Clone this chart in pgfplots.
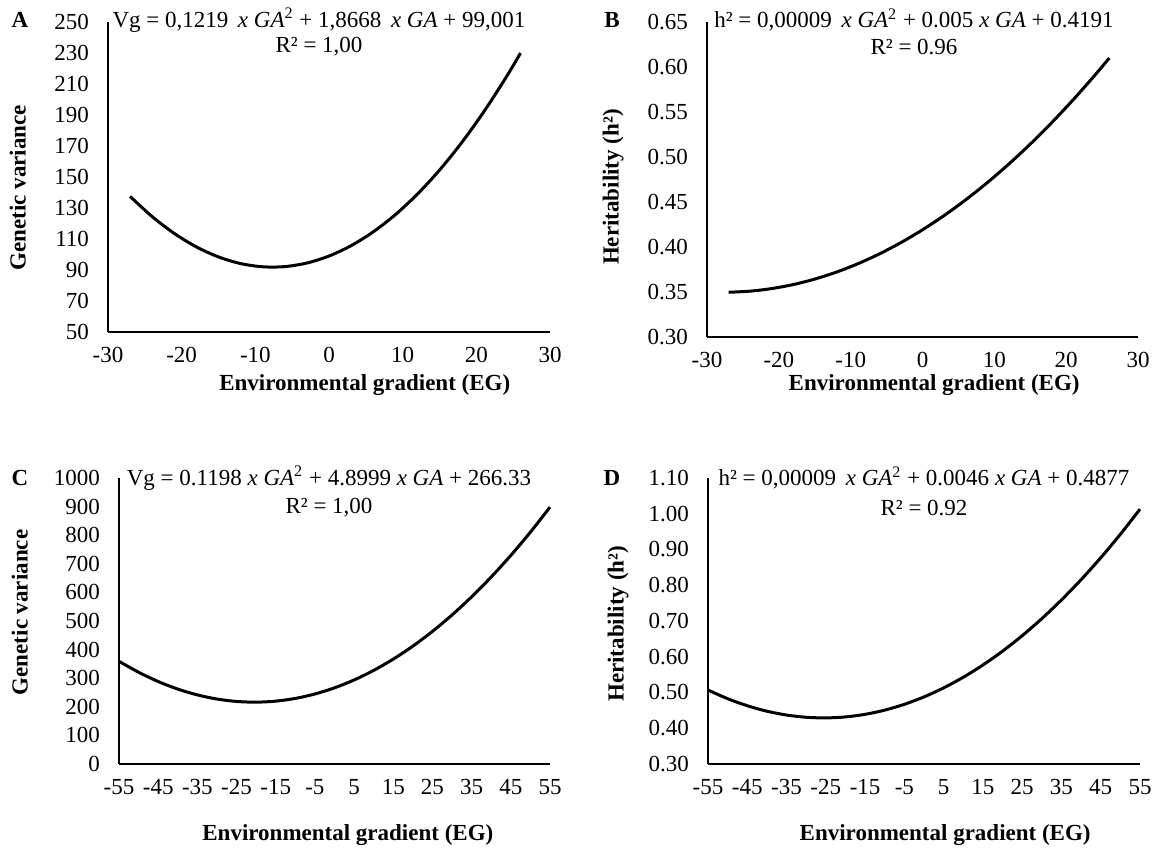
\documentclass[border=0pt]{standalone}
\usepackage{pgfplots}
\pgfplotsset{compat=1.18}
\usepackage{fontspec}
\setmainfont{Liberation Serif}

\pgfplotstableread{
x y
-27 137.47
-24 124.41
-21 113.56
-18 104.90
-15 98.43
-12 94.15
-9 92.07
-6 92.19
-3 94.50
0 99.00
3 105.70
6 114.59
9 125.67
12 138.95
15 154.43
18 172.10
21 191.96
24 214.01
26 229.94
}\dataA

\pgfplotstableread{
x y
-27 0.34971
-24 0.35094
-21 0.35379
-18 0.35826
-15 0.36435
-12 0.37206
-9 0.38139
-6 0.39234
-3 0.40491
0 0.41910
3 0.43491
6 0.45234
9 0.47139
12 0.49206
15 0.51435
18 0.53826
21 0.56379
24 0.59094
26 0.60994
}\dataB

\pgfplotstableread{
x y
-55 359.24
-50 320.83
-45 288.43
-40 262.01
-35 241.59
-30 227.15
-25 218.71
-20 216.25
-15 219.79
-10 229.31
-5 244.83
0 266.33
5 293.83
10 327.31
15 366.79
20 412.25
25 463.71
30 521.15
35 584.59
40 654.01
45 729.43
50 810.83
55 898.22
}\dataC

\pgfplotstableread{
x y
-55 0.50695
-50 0.48270
-45 0.46295
-40 0.44770
-35 0.43695
-30 0.43070
-25 0.42895
-20 0.43170
-15 0.43895
-10 0.45070
-5 0.46695
0 0.48770
5 0.51295
10 0.54270
15 0.57695
20 0.61570
25 0.65895
30 0.70670
35 0.75895
40 0.81570
45 0.87695
50 0.94270
55 1.01295
}\dataD

\pgfplotsset{
  panel/.style={
    scale only axis,
    anchor=south west,
    axis x line=bottom, axis y line=left,
    axis line style={-, line width=1.2pt, black},
    major tick length=0pt,
    tick style={draw=none},
    ticklabel style={font=\fontsize{11.5}{13}\selectfont},
    xticklabel style={anchor=north, yshift=-4pt},
    yticklabel style={anchor=east, xshift=-6pt},
    label style={font=\fontsize{11.5}{13}\selectfont\bfseries},
    clip=false,
  },
  curve/.style={black, line width=1.5pt, smooth, no markers},
}

\begin{document}
\begin{tikzpicture}
\useasboundingbox (0,0) rectangle (580.5pt,423.5pt);

% Panel A
\begin{axis}[panel,
  at={(54pt,257.5pt)},
  width=221pt, height=155pt,
  xmin=-30, xmax=30, ymin=50, ymax=250,
  xtick={-30,-20,-10,0,10,20,30},
  xticklabels={-30,-20,-10,0,10,20,30},
  ytick={50,70,90,110,130,150,170,190,210,230,250},
  yticklabels={50,70,90,110,130,150,170,190,210,230,250},
  xlabel={Environmental gradient (EG)},
  ylabel={Genetic variance},
  xlabel style={at={(axis description cs:0.581,-0.171)}, anchor=center},
  ylabel style={at={(axis description cs:-0.204,0.465)}, anchor=center},
]
\addplot[curve] table[x=x,y=y] {\dataA};
\end{axis}

% Panel B
\begin{axis}[panel,
  at={(353.5pt,255pt)},
  width=215.5pt, height=157.5pt,
  xmin=-30, xmax=30, ymin=0.30, ymax=0.65,
  xtick={-30,-20,-10,0,10,20,30},
  xticklabels={-30,-20,-10,0,10,20,30},
  ytick={0.30,0.35,0.40,0.45,0.50,0.55,0.60,0.65},
  yticklabels={0.30,0.35,0.40,0.45,0.50,0.55,0.60,0.65},
  xlabel={Environmental gradient (EG)},
  ylabel={Heritability (h²)},
  xlabel style={at={(axis description cs:0.527,-0.152)}, anchor=center},
  ylabel style={at={(axis description cs:-0.218,0.476)}, anchor=center},
]
\addplot[curve] table[x=x,y=y] {\dataB};
\end{axis}

% Panel C
\begin{axis}[panel,
  at={(59.5pt,41.5pt)},
  width=215.5pt, height=143pt,
  xmin=-55, xmax=55, ymin=0, ymax=1000,
  xtick={-55,-45,-35,-25,-15,-5,5,15,25,35,45,55},
  xticklabels={-55,-45,-35,-25,-15,-5,5,15,25,35,45,55},
  ytick={0,100,200,300,400,500,600,700,800,900,1000},
  yticklabels={0,100,200,300,400,500,600,700,800,900,1000},
  xlabel={Environmental gradient (EG)},
  ylabel={Genetic variance},
  xlabel style={at={(axis description cs:0.531,-0.248)}, anchor=center},
  ylabel style={at={(axis description cs:-0.23,0.53)}, anchor=center},
]
\addplot[curve] table[x=x,y=y] {\dataC};
\end{axis}

% Panel D
\begin{axis}[panel,
  at={(354pt,41.5pt)},
  width=216pt, height=143pt,
  xmin=-55, xmax=55, ymin=0.30, ymax=1.10,
  xtick={-55,-45,-35,-25,-15,-5,5,15,25,35,45,55},
  xticklabels={-55,-45,-35,-25,-15,-5,5,15,25,35,45,55},
  ytick={0.30,0.40,0.50,0.60,0.70,0.80,0.90,1.00,1.10},
  yticklabels={0.30,0.40,0.50,0.60,0.70,0.80,0.90,1.00,1.10},
  xlabel={Environmental gradient (EG)},
  ylabel={Heritability (h²)},
  xlabel style={at={(axis description cs:0.549,-0.248)}, anchor=center},
  ylabel style={at={(axis description cs:-0.208,0.49)}, anchor=center},
]
\addplot[curve] table[x=x,y=y] {\dataD};
\end{axis}

% Panel letters
\begin{scope}[every node/.style={font=\fontsize{11.5}{13}\selectfont\bfseries, inner sep=0pt}]
\node at (10pt,413.5pt) {A};
\node at (306pt,413.5pt) {B};
\node at (10pt,184.5pt) {C};
\node at (306pt,184.5pt) {D};
\end{scope}

% Equations
\begin{scope}[every node/.style={font=\fontsize{11.5}{13}\selectfont, inner sep=0pt}]
\node at (159.5pt,413.5pt) {Vg = 0,1219 \,\textit{x GA}\textsuperscript{2} + 1,8668 \,\textit{x GA} + 99,001};
\node at (159.5pt,400pt) {R² = 1,00};
\node at (457pt,413.5pt) {h² = 0,00009 \,\textit{x GA}\textsuperscript{2} + 0.005 \textit{x GA} + 0.4191};
\node at (457pt,400pt) {R² = 0.96};
\node at (164.5pt,184.5pt) {Vg = 0.1198 \textit{x GA}\textsuperscript{2} + 4.8999 \textit{x GA} + 266.33};
\node at (164.5pt,169.5pt) {R² = 1,00};
\node at (462pt,184.5pt) {h² = 0,00009 \,\textit{x GA}\textsuperscript{2} + 0.0046 \textit{x GA} + 0.4877};
\node at (462pt,169.5pt) {R² = 0.92};
\end{scope}
\end{tikzpicture}
\end{document}
